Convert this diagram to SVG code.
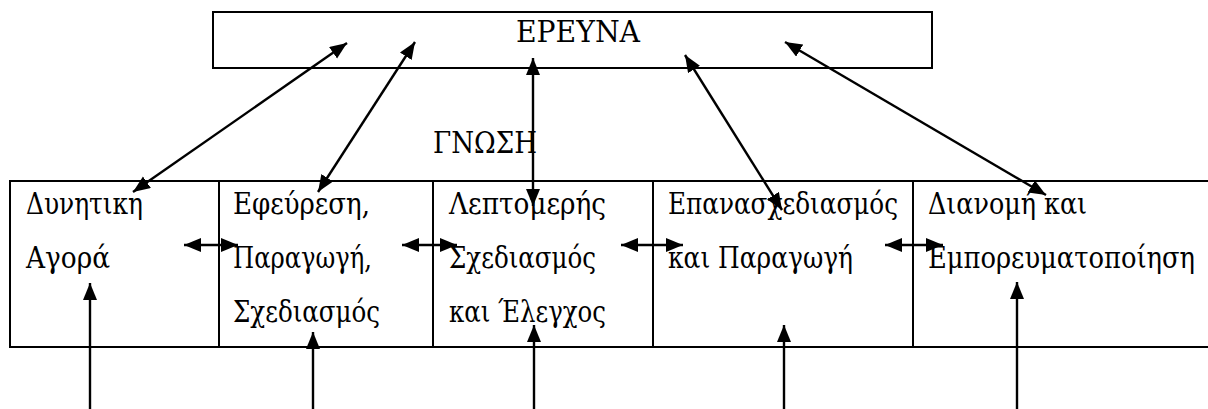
<svg xmlns="http://www.w3.org/2000/svg" width="1208" height="409" viewBox="0 0 1208 409">
<style>
.t{font-family:"DejaVu Serif Condensed","DejaVu Serif",serif;font-size:29px;fill:#000}
.b{fill:none;stroke:#000;stroke-width:2}
.c{fill:none;stroke:#000;stroke-width:2.4}
</style>
<defs>
<marker id="ah" markerUnits="userSpaceOnUse" markerWidth="18" markerHeight="15" refX="17" refY="7" orient="auto-start-reverse">
<path d="M0,0 L17,7 L0,14 z" fill="#000"/>
</marker>
</defs>
<rect width="1208" height="409" fill="#fff"/>
<g id="research">
<rect class="b" x="213" y="12" width="719" height="56"/>
<text class="t" x="516" y="42" textLength="124" lengthAdjust="spacingAndGlyphs">ΕΡΕΥΝΑ</text>
</g>
<g id="knowledge">
<text class="t" x="433" y="153" textLength="104" lengthAdjust="spacingAndGlyphs">ΓΝΩΣΗ</text>
</g>
<g id="row">
<path class="b" d="M1210,181 H10 V347 H1210"/>
</g>
<g id="cell1">
<text class="t" x="26" y="214" textLength="117" lengthAdjust="spacingAndGlyphs">Δυνητικη</text>
<text class="t" x="26" y="268" textLength="84" lengthAdjust="spacingAndGlyphs">Αγορά</text>
</g>
<g id="cell2">
<line class="b" x1="219" y1="181" x2="219" y2="347"/>
<text class="t" x="233" y="214" textLength="137" lengthAdjust="spacingAndGlyphs">Εφεύρεση,</text>
<text class="t" x="233" y="268" textLength="139" lengthAdjust="spacingAndGlyphs">Παραγωγή,</text>
<text class="t" x="233" y="322" textLength="147" lengthAdjust="spacingAndGlyphs">Σχεδιασμός</text>
</g>
<g id="cell3">
<line class="b" x1="433" y1="181" x2="433" y2="347"/>
<text class="t" x="449" y="214" textLength="157" lengthAdjust="spacingAndGlyphs">Λεπτομερής</text>
<text class="t" x="449" y="268" textLength="147" lengthAdjust="spacingAndGlyphs">Σχεδιασμός</text>
<text class="t" x="449" y="322" textLength="157" lengthAdjust="spacingAndGlyphs">και Έλεγχος</text>
</g>
<g id="cell4">
<line class="b" x1="653" y1="181" x2="653" y2="347"/>
<text class="t" x="668" y="214" textLength="230" lengthAdjust="spacingAndGlyphs">Επανασχεδιασμός</text>
<text class="t" x="668" y="268" textLength="185" lengthAdjust="spacingAndGlyphs">και Παραγωγή</text>
</g>
<g id="cell5">
<line class="b" x1="913" y1="181" x2="913" y2="347"/>
<text class="t" x="928" y="214" textLength="159" lengthAdjust="spacingAndGlyphs">Διανομή και</text>
<text class="t" x="928" y="268" textLength="267" lengthAdjust="spacingAndGlyphs">Εμπορευματοποίηση</text>
</g>
<g id="connectors">
<line class="c" x1="133" y1="192" x2="347" y2="43" marker-start="url(#ah)" marker-end="url(#ah)"/>
<line class="c" x1="318" y1="192" x2="415" y2="42" marker-start="url(#ah)" marker-end="url(#ah)"/>
<line class="c" x1="533" y1="206" x2="533" y2="58" marker-start="url(#ah)" marker-end="url(#ah)"/>
<line class="c" x1="782" y1="210" x2="685" y2="55" marker-start="url(#ah)" marker-end="url(#ah)"/>
<line class="c" x1="1046" y1="195" x2="785" y2="42" marker-start="url(#ah)" marker-end="url(#ah)"/>
<line class="c" x1="184" y1="245" x2="238" y2="245" marker-start="url(#ah)" marker-end="url(#ah)"/>
<line class="c" x1="402" y1="245" x2="457" y2="245" marker-start="url(#ah)" marker-end="url(#ah)"/>
<line class="c" x1="621" y1="245" x2="683" y2="245" marker-start="url(#ah)" marker-end="url(#ah)"/>
<line class="c" x1="885" y1="245" x2="943" y2="245" marker-start="url(#ah)" marker-end="url(#ah)"/>
<line class="c" x1="90" y1="409" x2="90" y2="283" marker-end="url(#ah)"/>
<line class="c" x1="313" y1="409" x2="313" y2="332" marker-end="url(#ah)"/>
<line class="c" x1="534" y1="409" x2="534" y2="325" marker-end="url(#ah)"/>
<line class="c" x1="784" y1="409" x2="784" y2="325" marker-end="url(#ah)"/>
<line class="c" x1="1017" y1="409" x2="1017" y2="282" marker-end="url(#ah)"/>
</g>
</svg>
